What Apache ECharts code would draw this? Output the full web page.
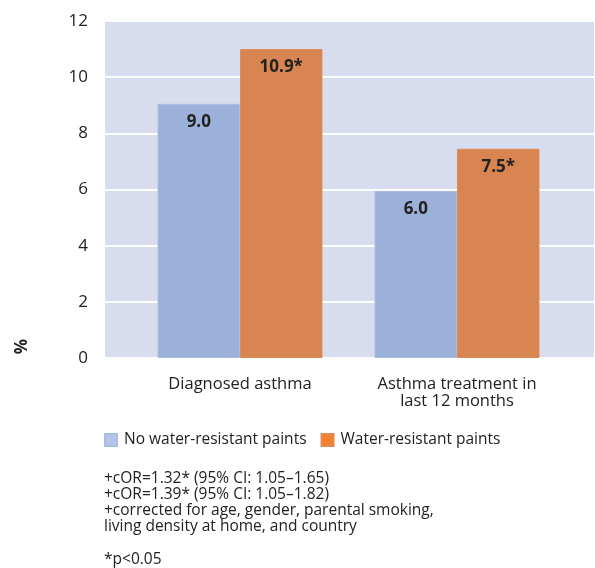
<!DOCTYPE html>
<html>
<head>
    <meta charset="UTF-8">
    <title></title>
    <script type="text/javascript" src="https://cdn.jsdelivr.net/npm/echarts@6/dist/echarts.min.js"></script>
    <style>
        html, body { margin: 0; padding: 0; background: #fff; }
    </style>
</head>
<body>
<div id="main" style="width: 595px;height:568px;"></div>
<script type="text/javascript">
    // data
    var categories = ['Diagnosed asthma', 'Asthma treatment in\nlast 12 months'];
    var noPaint = [9.05, 5.95];
    var waterPaint = [11.0, 7.45];
    var noPaintLabels = ['9.0', '6.0'];
    var waterPaintLabels = ['10.9*', '7.5*'];
    var yTicks = [0, 2, 4, 6, 8, 10, 12];
    var notes = [
        '+cOR=1.32* (95% CI: 1.05\u20131.65)',
        '+cOR=1.39* (95% CI: 1.05\u20131.82)',
        '+corrected for age, gender, parental smoking,',
        'living density at home, and country'
    ];

    var font = 'Open Sans';
    var myChart = echarts.init(document.getElementById('main'));

    var option = {
        textStyle: { fontFamily: font },
        legend: {
            left: 99,
            top: 427,
            icon: 'rect',
            itemWidth: 12,
            itemHeight: 12,
            itemGap: 14,
            textStyle: { fontSize: 15.5, color: '#222', fontFamily: font, padding: [0, 0, 0, 2] },
            data: [
                { name: 'No water-resistant paints', itemStyle: { color: '#b4c6e7' } },
                { name: 'Water-resistant paints', itemStyle: { color: '#f4802f' } }
            ]
        },
        grid: [
            // background + y axis
            { left: 105, right: 1, top: 21, bottom: 210, show: true, backgroundColor: '#d7ddef', borderWidth: 0 },
            // bars
            { left: 131.5, right: 29.5, top: 21, bottom: 210 }
        ],
        xAxis: [
            { gridIndex: 0, type: 'category', data: categories, show: false },
            {
                gridIndex: 1,
                type: 'category',
                data: categories,
                axisLine: { show: false },
                axisTick: { show: false },
                axisLabel: { fontSize: 16.5, color: '#222', margin: 18, lineHeight: 17, fontFamily: font }
            }
        ],
        yAxis: [
            {
                gridIndex: 0,
                type: 'value',
                min: yTicks[0],
                max: yTicks[yTicks.length - 1],
                interval: 2,
                axisLine: { show: false },
                axisTick: { show: false },
                axisLabel: { fontSize: 17, color: '#222', margin: 17, fontFamily: font },
                splitLine: { show: true, lineStyle: { color: '#ffffff', width: 2 } }
            },
            {
                gridIndex: 1,
                type: 'value',
                min: yTicks[0],
                max: yTicks[yTicks.length - 1],
                interval: 2,
                show: false,
                splitLine: { show: false }
            }
        ],
        series: [
            {
                name: 'No water-resistant paints',
                type: 'bar',
                xAxisIndex: 1,
                yAxisIndex: 1,
                data: noPaint,
                barGap: '0%',
                barCategoryGap: '24%',
                itemStyle: { color: '#9bb1da', borderColor: '#a9bde2', borderWidth: 1 },
                label: {
                    show: true,
                    position: 'insideTop',
                    distance: 10,
                    fontSize: 17,
                    fontWeight: 'bold',
                    color: '#222',
                    fontFamily: font,
                    formatter: function (p) { return noPaintLabels[p.dataIndex]; }
                }
            },
            {
                name: 'Water-resistant paints',
                type: 'bar',
                xAxisIndex: 1,
                yAxisIndex: 1,
                data: waterPaint,
                barGap: '0%',
                barCategoryGap: '24%',
                itemStyle: { color: '#d98552', borderColor: '#e08a55', borderWidth: 1 },
                label: {
                    show: true,
                    position: 'insideTop',
                    distance: 10,
                    fontSize: 17,
                    fontWeight: 'bold',
                    color: '#222',
                    fontFamily: font,
                    formatter: function (p) { return waterPaintLabels[p.dataIndex]; }
                }
            }
        ],
        graphic: [
            {
                type: 'text',
                left: 14,
                top: 339,
                rotation: Math.PI / 2,
                style: { text: '%', fontSize: 17, fontWeight: 'bold', fill: '#222', fontFamily: font }
            },
            {
                type: 'text',
                left: 104,
                top: 471,
                style: { text: notes.join('\n'), fontSize: 15.5, lineHeight: 16, fill: '#222', fontFamily: font }
            },
            {
                type: 'text',
                left: 104,
                top: 552,
                style: { text: '*p<0.05', fontSize: 15.5, fill: '#222', fontFamily: font }
            }
        ]
    };

    myChart.setOption(option);
</script>
</body>
</html>
